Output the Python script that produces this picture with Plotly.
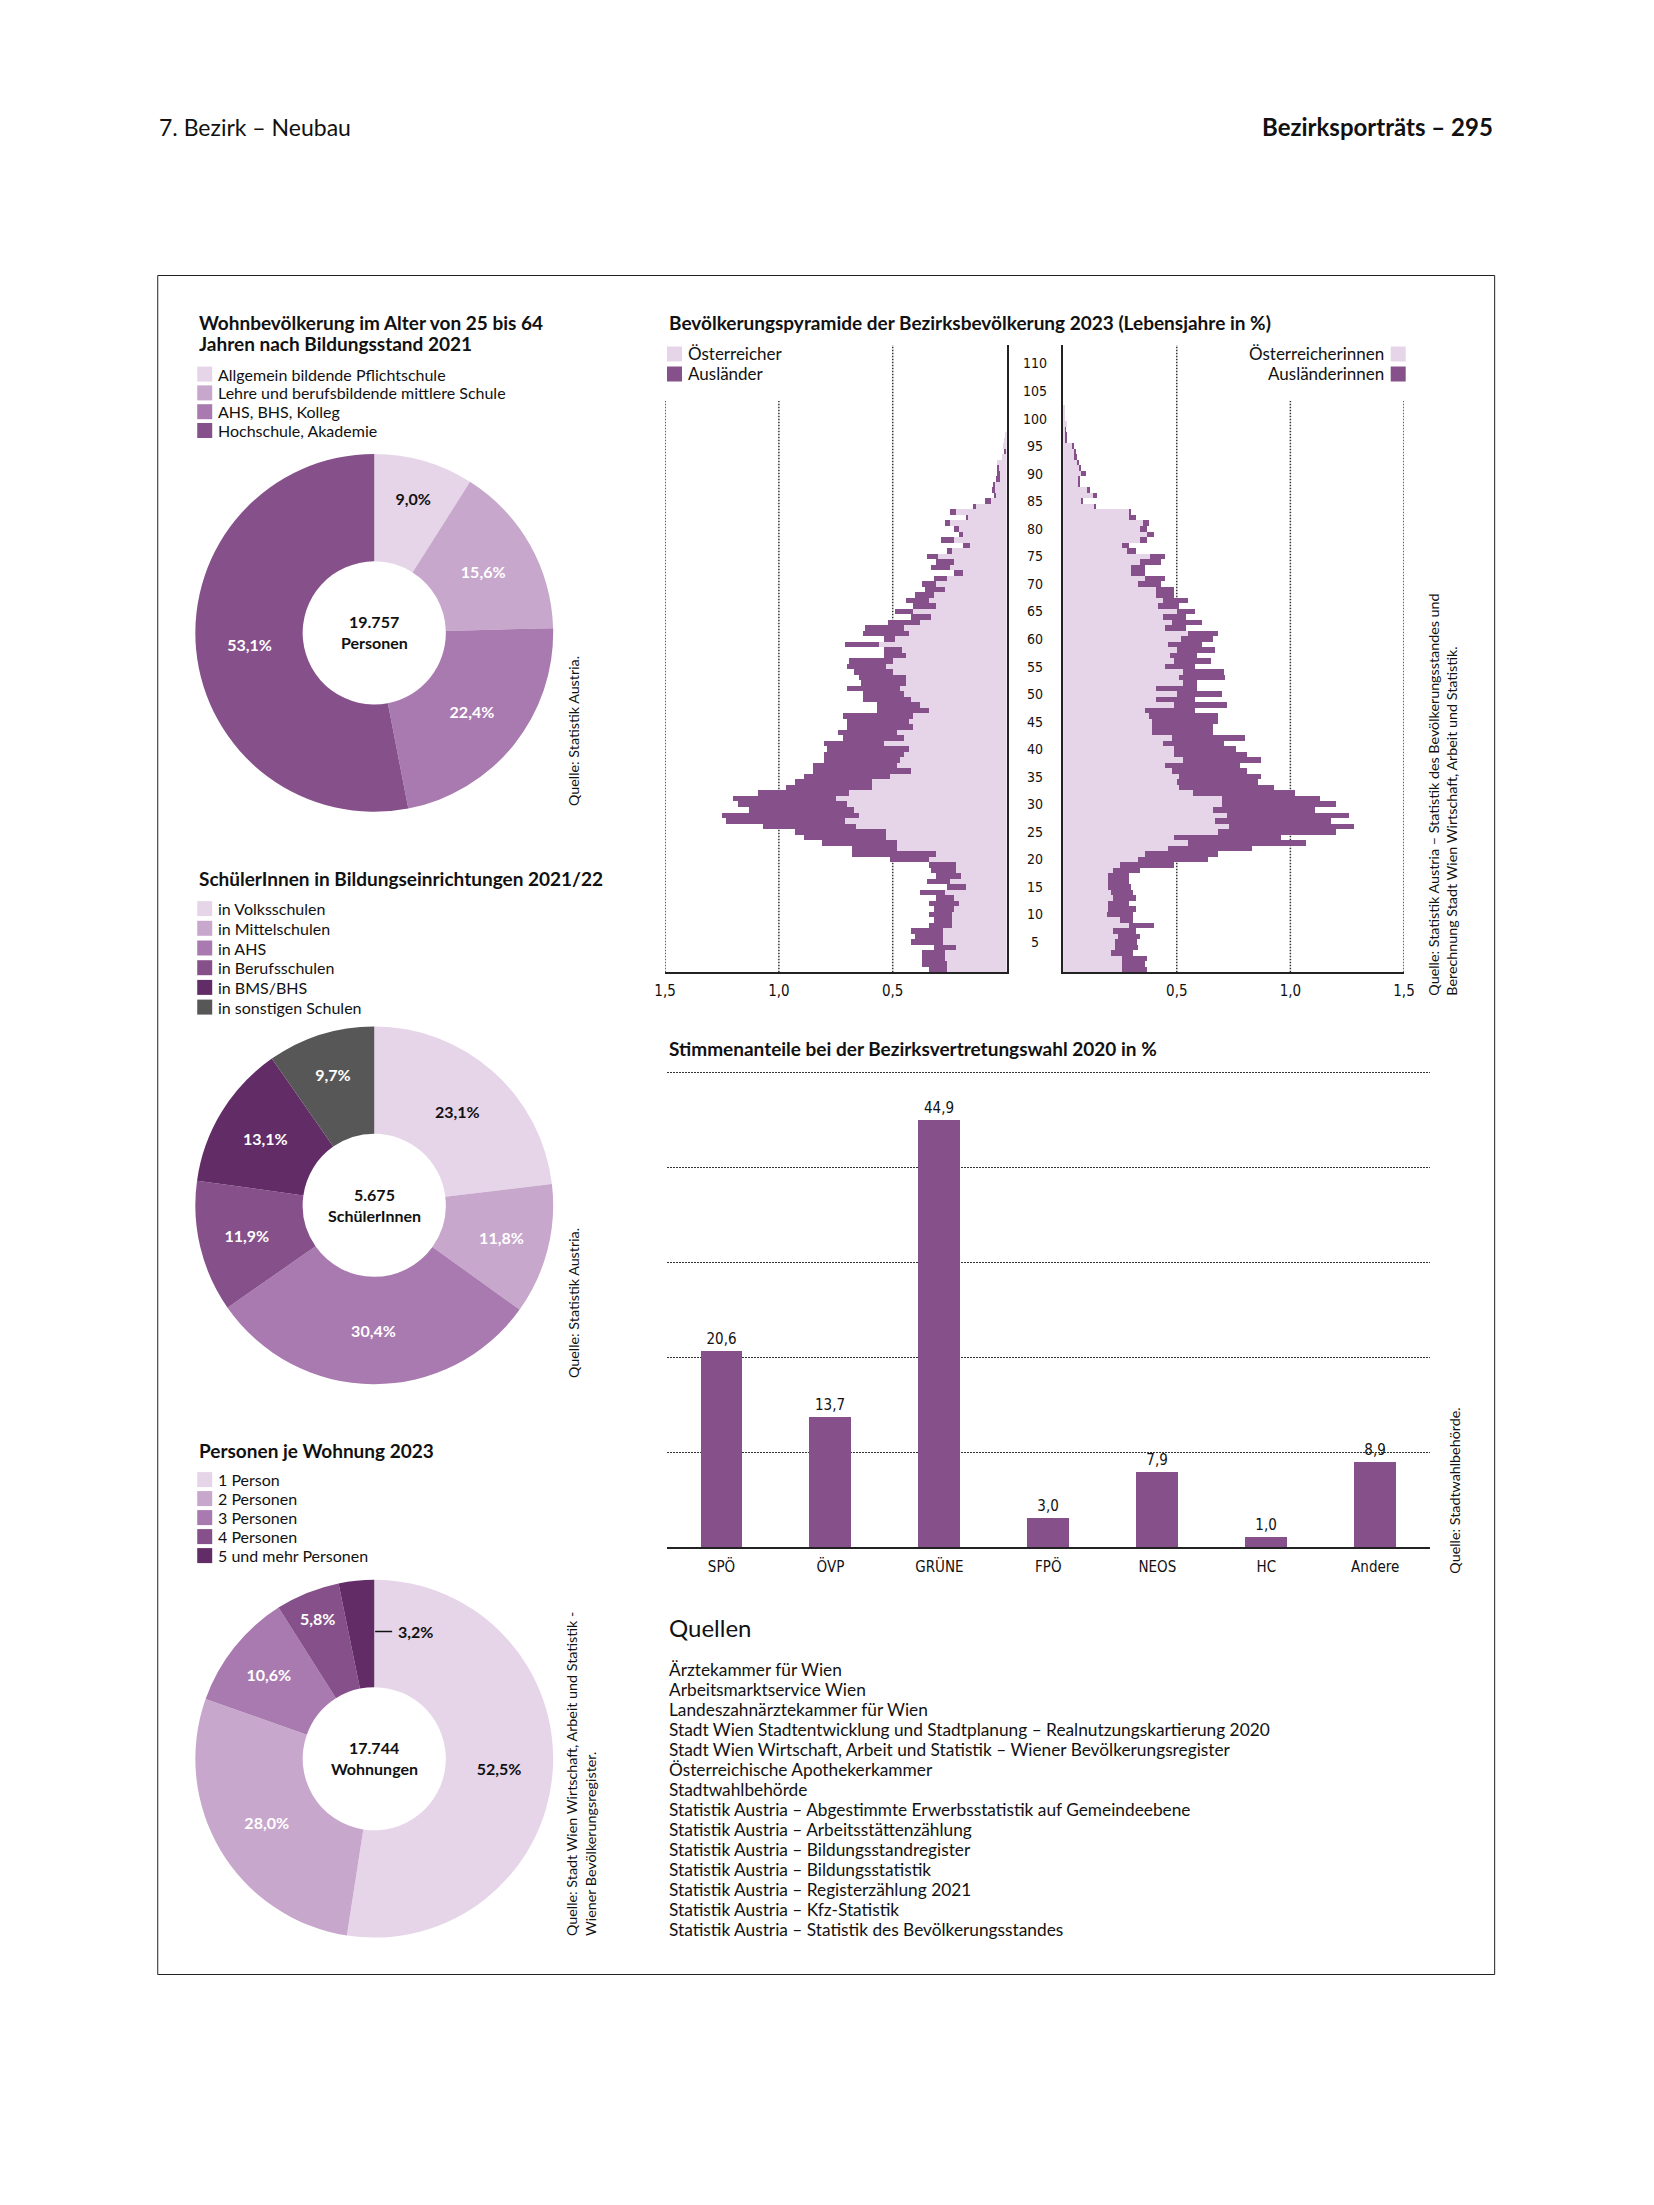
import plotly.graph_objects as go

# Figure is 16px smaller than the window so that the 8px page margin causes no scrollbars.
# Positions below are target picture pixels; px()/py() translate them to paper fractions
# (including the horizontal mapping of the page capture observed in earlier renders).
FW, FH = 1638, 2189
M = 8
SX, OX = 0.987, 10.8
def px(x): return ((x - OX) / SX - M) / FW
def py(y): return 1 - (y - M) / FH

FONT = "Lato, 'Noto Sans', sans-serif"
COND = "'Liberation Sans Narrow', 'DejaVu Sans Condensed', 'Roboto', sans-serif"
C1, C2, C3, C4, C5, GREY = '#e6d5e9', '#c8a7cc', '#a97aaf', '#86518a', '#622c66', '#575757'

# ---------------- data ----------------
bild_labels = ["Allgemein bildende Pflichtschule", "Lehre und berufsbildende mittlere Schule",
               "AHS, BHS, Kolleg", "Hochschule, Akademie"]
bild_values = [9.0, 15.6, 22.4, 53.1]
bild_total, bild_unit = 19757, "Personen"

schul_labels = ["in Volksschulen", "in Mittelschulen", "in AHS", "in Berufsschulen",
                "in BMS/BHS", "in sonstigen Schulen"]
schul_values = [23.1, 11.8, 30.4, 11.9, 13.1, 9.7]
schul_total, schul_unit = 5675, "SchülerInnen"

wohn_labels = ["1 Person", "2 Personen", "3 Personen", "4 Personen", "5 und mehr Personen"]
wohn_values = [52.5, 28.0, 10.6, 5.8, 3.2]
wohn_total, wohn_unit = 17744, "Wohnungen"

ages_m = list(range(0, 98))
maenner_oe = [.26, .26, .27, .27, .22, .28, .28, .28, .24, .24,
              .24, .23, .21, .23, .27, .18, .25, .20, .22, .22,
              .34, .31, .48, .48, .53, .53, .66, .71, .65, .67,
              .70, .75, .69, .59, .59, .51, .42, .48, .47, .45,
              .43, .54, .45, .48, .41, .43, .41, .34, .38, .42,
              .45, .47, .44, .44, .50, .53, .50, .44, .46, .56,
              .49, .43, .45, .38, .33, .41, .31, .34, .32, .27,
              .31, .26, .19, .25, .23, .30, .24, .16, .23, .19,
              .21, .25, .17, .22, .136, .07, .045, .05, .05, .03,
              .03, .035, .044, .02, .005, .015, .01, .005]
maenner_ausl = [.08, .11, .10, .10, .10, .14, .12, .14, .10, .08,
                .10, .09, .13, .08, .11, .08, .10, .11, .11, .12,
                .17, .37, .20, .33, .36, .40, .41, .52, .60, .46,
                .48, .45, .40, .38, .34, .38, .43, .37, .33, .35,
                .36, .26, .27, .26, .29, .27, .31, .23, .19, .21,
                .18, .23, .20, .21, .17, .17, .19, .10, .08, .15,
                .05, .20, .17, .14, .09, .08, .10, .10, .08, .09,
                .06, .06, .04, .08, .08, .05, .02, .03, .06, .02,
                .02, .02, .01, .03, .01, .025, .01, .016, .01, .015,
                .01, .005, 0, 0, .005, 0, 0, 0]

ages_f = list(range(0, 103))
frauen_oe = [.26, .26, .26, .21, .23, .23, .24, .22, .29, .25,
             .195, .20, .20, .22, .21, .20, .20, .20, .22, .25,
             .33, .36, .46, .55, .49, .68, .73, .67, .72, .66,
             .70, .70, .57, .51, .50, .51, .48, .45, .53, .49,
             .49, .44, .48, .39, .39, .39, .38, .36, .49, .41,
             .50, .41, .53, .51, .53, .45, .49, .47, .50, .46,
             .52, .55, .45, .48, .44, .50, .42, .44, .41, .41,
             .33, .36, .30, .30, .34, .385, .28, .26, .34, .37,
             .34, .35, .29, .29, .135, .08, .13, .105, .07, .066,
             .077, .07, .06, .05, .047, .04, .012, .012, .01, .018,
             .01, .005, .005]
frauen_ausl = [.11, .10, .11, .10, .10, .095, .10, .10, .11, .06,
               .115, .12, .09, .10, .10, .10, .09, .09, .12, .24,
               .31, .32, .37, .52, .47, .52, .55, .51, .54, .45,
               .50, .43, .45, .42, .36, .36, .33, .33, .34, .32,
               .27, .27, .32, .27, .27, .29, .30, .22, .23, .17,
               .20, .18, .06, .205, .18, .13, .16, .12, .17, .15,
               .14, .13, .09, .13, .10, .08, .09, .11, .08, .08,
               .10, .09, .06, .06, .09, .065, .04, .03, .03, .03,
               .03, .03, .03, .01, .01, .01, .02, .012, .006, .01,
               .023, .01, .01, .01, .009, .005, .003, .003, .002, 0,
               0, 0, 0]
age_ticks = list(range(5, 115, 5))
pyr_ticks = [1.5, 1.0, 0.5]

parteien = ["SPÖ", "ÖVP", "GRÜNE", "FPÖ", "NEOS", "HC", "Andere"]
stimmen = [20.6, 13.7, 44.9, 3.0, 7.9, 1.0, 8.9]
stimmen_grid = [10, 20, 30, 40, 50]

quellen = [
    "Ärztekammer für Wien",
    "Arbeitsmarktservice Wien",
    "Landeszahnärztekammer für Wien",
    "Stadt Wien Stadtentwicklung und Stadtplanung – Realnutzungskartierung 2020",
    "Stadt Wien Wirtschaft, Arbeit und Statistik – Wiener Bevölkerungsregister",
    "Österreichische Apothekerkammer",
    "Stadtwahlbehörde",
    "Statistik Austria – Abgestimmte Erwerbsstatistik auf Gemeindeebene",
    "Statistik Austria – Arbeitsstättenzählung",
    "Statistik Austria – Bildungsstandregister",
    "Statistik Austria – Bildungsstatistik",
    "Statistik Austria – Registerzählung 2021",
    "Statistik Austria – Kfz-Statistik",
    "Statistik Austria – Statistik des Bevölkerungsstandes",
]

# ---------------- figure ----------------
fig = go.Figure()
ann = []
shapes = []

def text(x, y, s, size=15, bold=False, anchor='left', family=FONT, color='#111', yanchor='middle', angle=0):
    ann.append(dict(x=px(x), y=py(y), xref='paper', yref='paper', text=s, showarrow=False,
                    xanchor=anchor, yanchor=yanchor, textangle=angle,
                    font=dict(family=family, size=size, color=color, weight='bold' if bold else 'normal')))

def vtext(x, ybottom, lines, size=14.3):
    ann.append(dict(x=px(x), y=py(ybottom), xref='paper', yref='paper', text="<br>".join(lines),
                    showarrow=False, xanchor='center', yanchor='bottom', textangle=-90, align='left',
                    font=dict(family=FONT, size=size, color='#111')))

def square(x, y, color, s=15):
    shapes.append(dict(type='rect', xref='paper', yref='paper', x0=px(x), x1=px(x + s),
                       y0=py(y + s / 2), y1=py(y - s / 2), fillcolor=color, line=dict(width=0)))

def de_int(n):
    return f"{n:,}".replace(",", ".")

# header and frame
text(157, 127, "7. Bezirk – Neubau", size=23)
text(1495, 127, "Bezirksporträts – 295", size=24, bold=True, anchor='right')
shapes.append(dict(type='rect', xref='paper', yref='paper', x0=px(157.5), x1=px(1495),
                   y0=py(1974.5), y1=py(275.5), line=dict(color='#222', width=1)))

# ---------------- donuts ----------------
def donut(values, labels, colors, txtcolors, cy, title_lines, title_y, leg_y0, leg_dy, total, unit,
          src_lines, src_bottom, src_x, textpos='inside'):
    R = 179.0
    cx = 374.1
    fig.add_trace(go.Pie(values=values, labels=labels, hole=0.4, sort=False, direction='clockwise',
                         rotation=0, marker=dict(colors=colors, line=dict(width=0)),
                         texttemplate='%{value:.1f}%', textposition=textpos,
                         insidetextorientation='horizontal',
                         textfont=dict(family=FONT, size=16, color=txtcolors, weight='bold'),
                         domain=dict(x=[px(cx - R), px(cx + R)], y=[py(cy + R), py(cy - R)]),
                         showlegend=False, hoverinfo='skip'))
    for i, t in enumerate(title_lines):
        text(197, title_y + i * 21, t, size=19, bold=True)
    for i, (lab, col) in enumerate(zip(labels, colors)):
        yy = leg_y0 + i * leg_dy
        square(197, yy, col)
        text(216, yy, lab, size=16)
    text(cx, cy - 11, de_int(total), size=16, bold=True, anchor='center')
    text(cx, cy + 10, unit, size=16, bold=True, anchor='center')
    vtext(src_x, src_bottom, src_lines)

donut(bild_values, bild_labels, [C1, C2, C3, C4], ['#111', 'white', 'white', 'white'], 632.9,
      ["Wohnbevölkerung im Alter von 25 bis 64", "Jahren nach Bildungsstand 2021"], 322, 374.1, 18.8,
      bild_total, bild_unit, ["Quelle: Statistik Austria."], 808, 573)
donut(schul_values, schul_labels, [C1, C2, C3, C4, C5, GREY], ['#111'] + ['white'] * 5, 1205.3,
      ["SchülerInnen in Bildungseinrichtungen 2021/22"], 878, 908.6, 19.7,
      schul_total, schul_unit, ["Quelle: Statistik Austria."], 1380, 573)
donut(wohn_values, wohn_labels, [C1, C2, C3, C4, C5], ['#111'] + ['white'] * 4, 1758.7,
      ["Personen je Wohnung 2023"], 1450, 1479.6, 19.0,
      wohn_total, wohn_unit,
      ["Quelle: Stadt Wien Wirtschaft, Arbeit und Statistik -", "Wiener Bevölkerungsregister."], 1938, 581,
      textpos=['inside', 'inside', 'inside', 'inside', 'none'])
# outside label of smallest slice
shapes.append(dict(type='line', xref='paper', yref='paper', x0=px(375), x1=px(392),
                   y0=py(1631.5), y1=py(1631.5), line=dict(color='#111', width=1.5)))
text(396, 1631.5, f"{wohn_values[-1]:.1f}%".replace(".", ","), size=16, bold=True)

# ---------------- population pyramid ----------------
ROW = 5.51
Y0 = 972.3
ytop = -0.5 + (Y0 - 345) / ROW
ygrid_top = -0.5 + (Y0 - 401) / ROW
ydom = [py(Y0), py(345)]

fig.add_trace(go.Bar(x=maenner_oe, y=ages_m, orientation='h', width=1, marker=dict(color=C1, line=dict(width=0)),
                     xaxis='x', yaxis='y', hoverinfo='skip', showlegend=False))
fig.add_trace(go.Bar(x=maenner_ausl, y=ages_m, orientation='h', width=1, marker=dict(color=C4, line=dict(width=0)),
                     xaxis='x', yaxis='y', hoverinfo='skip', showlegend=False))
fig.add_trace(go.Bar(x=frauen_oe, y=ages_f, orientation='h', width=1, marker=dict(color=C1, line=dict(width=0)),
                     xaxis='x2', yaxis='y2', hoverinfo='skip', showlegend=False))
fig.add_trace(go.Bar(x=frauen_ausl, y=ages_f, orientation='h', width=1, marker=dict(color=C4, line=dict(width=0)),
                     xaxis='x2', yaxis='y2', hoverinfo='skip', showlegend=False))

for xr, yr in (('x', 'y'), ('x2', 'y2')):
    for v in pyr_ticks:
        shapes.append(dict(type='line', xref=xr, yref=yr, x0=v, x1=v, y0=-0.5,
                           y1=ytop if v == 0.5 else ygrid_top, layer='below',
                           line=dict(color='#333', width=1.5, dash='1.5px,1.5px')))

for a in age_ticks:
    ann.append(dict(x=px(1035.5), y=a, xref='paper', yref='y', text=str(a), showarrow=False,
                    xanchor='center', yanchor='middle', font=dict(family=COND, size=14, color='#111')))

text(667, 322, "Bevölkerungspyramide der Bezirksbevölkerung 2023 (Lebensjahre in %)", size=19, bold=True)
square(667, 354, C1); text(686, 354, "Österreicher", size=17)
square(667, 374, C4); text(686, 374, "Ausländer", size=17)
square(1391, 354, C1); text(1386, 354, "Österreicherinnen", size=17, anchor='right')
square(1391, 374, C4); text(1386, 374, "Ausländerinnen", size=17, anchor='right')
vtext(1443, 998, ["Quelle: Statistik Austria – Statistik des Bevölkerungsstandes und",
                  "Berechnung Stadt Wien Wirtschaft, Arbeit und Statistik."])

# ---------------- bar chart ----------------
fig.add_trace(go.Bar(x=parteien, y=stimmen, width=0.385, marker=dict(color=C4, line=dict(width=0)),
                     texttemplate='%{y:.1f}', textposition='outside', cliponaxis=False,
                     textfont=dict(family=COND, size=15, color='#111'),
                     xaxis='x3', yaxis='y3', hoverinfo='skip', showlegend=False))
text(667, 1048, "Stimmenanteile bei der Bezirksvertretungswahl 2020 in %", size=19, bold=True)
vtext(1454, 1576, ["Quelle: Stadtwahlbehörde."])
BAR_BASE, BAR_PX = 1547, 9.5
BAR_TOP = 50.4

# ---------------- sources ----------------
text(667, 1627, "Quellen", size=24)
for i, q in enumerate(quellen):
    text(667, 1669.5 + i * 20.0, q, size=17.3)

# ---------------- layout ----------------
axis_common = dict(showgrid=False, zeroline=False, fixedrange=True)
fig.update_layout(
    width=FW, height=FH, autosize=False,
    margin=dict(l=0, r=0, t=0, b=0),
    paper_bgcolor='white', plot_bgcolor='rgba(0,0,0,0)',
    separators=',.',
    barmode='stack', bargap=0,
    showlegend=False,
    font=dict(family=FONT, color='#111'),
    xaxis=dict(domain=[px(665), px(1006.7)], range=[1.5, 0], anchor='y',
               tickvals=pyr_ticks, tickformat='.1f', ticks='', showline=True, linecolor='#222', linewidth=1.5,
               ticklabelstandoff=4,
               tickfont=dict(family=COND, size=15, color='#111'), **axis_common),
    yaxis=dict(domain=ydom, range=[-0.5, ytop], anchor='x', side='right', showline=True,
               linecolor='#222', linewidth=1.5, showticklabels=False, ticks='', **axis_common),
    xaxis2=dict(domain=[px(1063.3), px(1404.3)], range=[0, 1.5], anchor='y2',
                tickvals=pyr_ticks, tickformat='.1f', ticks='', showline=True, linecolor='#222', linewidth=1.5,
                ticklabelstandoff=4,
                tickfont=dict(family=COND, size=15, color='#111'), **axis_common),
    yaxis2=dict(domain=ydom, range=[-0.5, ytop], anchor='x2', side='left', showline=True,
                linecolor='#222', linewidth=1.5, showticklabels=False, ticks='', **axis_common),
    xaxis3=dict(domain=[px(667), px(1430)], range=[-0.5, 6.5], anchor='y3', type='category',
                showline=True, linecolor='#222', linewidth=1.5, ticks='', ticklabelstandoff=5,
                tickfont=dict(family=COND, size=15, color='#111'), showgrid=False, zeroline=False),
    yaxis3=dict(domain=[py(BAR_BASE), py(BAR_BASE - BAR_TOP * BAR_PX)], range=[0, BAR_TOP], anchor='x3',
                tickvals=stimmen_grid,
                showgrid=True, gridcolor='#333', gridwidth=1.2, griddash='1.5px,1.5px',
                showticklabels=False, ticks='', zeroline=False, showline=False),
    annotations=ann,
    shapes=shapes,
)

fig.write_html("out.html")
